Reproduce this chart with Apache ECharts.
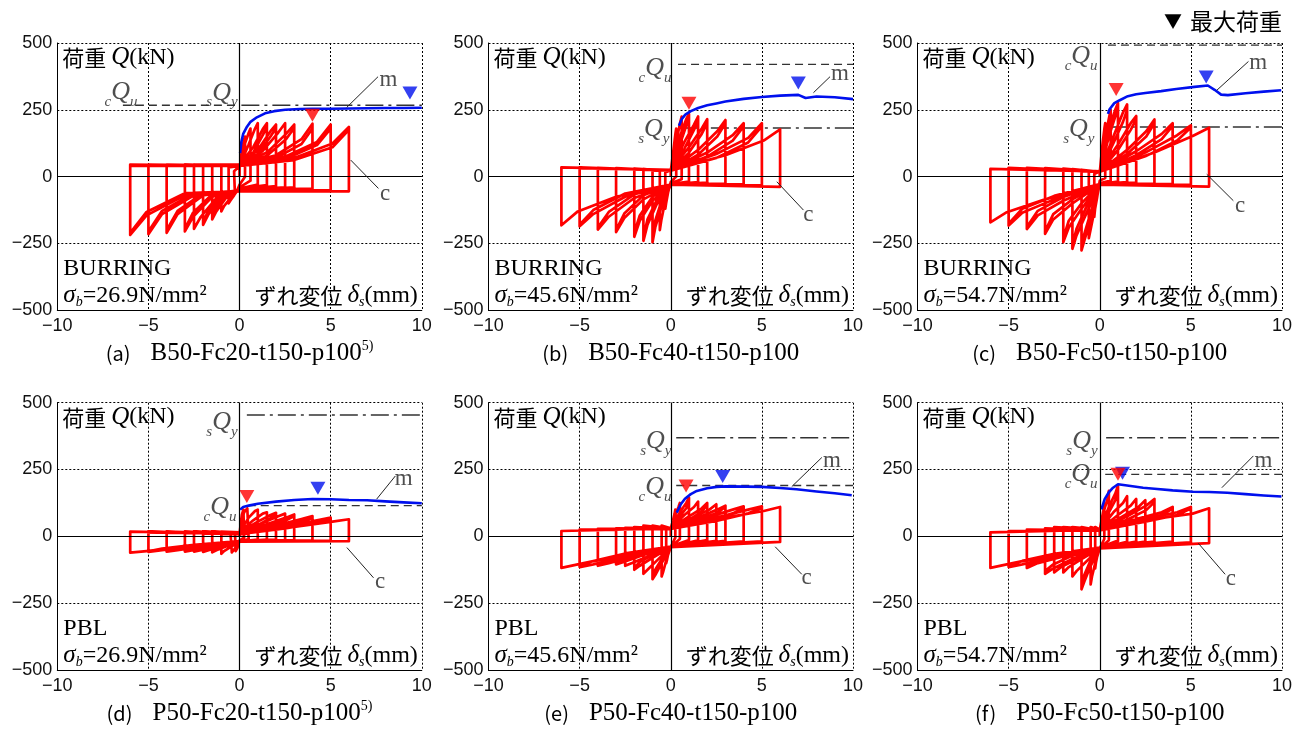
<!DOCTYPE html>
<html>
<head>
<meta charset="utf-8">
<script src="https://cdn.jsdelivr.net/npm/echarts@6/dist/echarts.min.js"></script>
<style>
  html, body { margin: 0; padding: 0; background: #fff; }
  #chart { width: 1305px; height: 729px; }
</style>
</head>
<body>
<div id="chart"></div>
<script>
// one row per cycle:
// [amp, upper@0, upper@amp/2, upper@0.85amp, peak+, after drop, lower@0, lower@-amp/2, lower@-0.85amp, peak-, after rise]
const loopsA = [
  [0.3, 30, 110, 140, 150, 0, -30, -55, -65, -70, 20],
  [0.6, 40, 125, 165, 180, -15, -40, -70, -90, -100, 35],
  [1, 40, 120, 180, 200, -30, -45, -80, -110, -130, 40],
  [1.5, 45, 110, 178, 200, -35, -48, -80, -130, -160, 45],
  [1.5, 40, 90, 155, 185, -32, -45, -70, -115, -150, 40],
  [2, 45, 100, 170, 195, -38, -50, -80, -140, -180, 45],
  [2, 40, 85, 150, 182, -35, -48, -70, -125, -170, 40],
  [2.5, 45, 95, 165, 200, -40, -50, -78, -150, -195, 45],
  [3, 45, 90, 160, 195, -42, -50, -75, -150, -205, 45],
  [3, 40, 78, 140, 182, -40, -52, -66, -135, -195, 40],
  [4, 45, 80, 140, 198, -45, -50, -70, -140, -210, 45],
  [4, 40, 70, 122, 180, -45, -52, -62, -128, -200, 40],
  [5, 45, 75, 130, 195, -50, -52, -70, -140, -215, 45],
  [5, 40, 66, 118, 180, -50, -55, -62, -128, -205, 40],
  [6, 45, 70, 124, 186, -55, -55, -70, -145, -218, 45],
  [6, 40, 62, 110, 175, -55, -55, -62, -132, -210, 40]
];
const loopsB = [
  [0.3, 20, 100, 160, 180, 0, -20, -60, -100, -120, 15],
  [0.6, 25, 130, 200, 225, -10, -25, -90, -160, -200, 25],
  [1, 25, 150, 215, 235, -20, -30, -110, -190, -245, 25],
  [1, 22, 120, 190, 220, -18, -28, -90, -165, -230, 22],
  [1.5, 25, 130, 195, 225, -22, -30, -100, -180, -240, 28],
  [1.5, 22, 105, 175, 210, -20, -30, -85, -160, -225, 25],
  [2, 25, 110, 180, 215, -25, -30, -90, -165, -225, 30],
  [2, 22, 90, 160, 200, -22, -30, -75, -145, -210, 27],
  [3, 25, 100, 170, 212, -28, -30, -85, -155, -207, 32],
  [3, 22, 82, 150, 200, -26, -30, -70, -138, -200, 29],
  [4, 25, 90, 155, 200, -30, -30, -80, -150, -198, 33],
  [4, 22, 75, 135, 188, -28, -30, -66, -132, -190, 30],
  [5, 25, 85, 145, 200, -35, -30, -75, -140, -186, 35],
  [5, 22, 70, 128, 188, -33, -30, -63, -125, -180, 32],
  [6, 25, 80, 135, 177, -38, -30, -75, -130, -182, 35]
];
const loopsC = [
  [0.3, 15, 120, 180, 200, -5, -15, -80, -120, -150, 10],
  [0.6, 20, 150, 220, 250, -15, -25, -130, -200, -230, 20],
  [1, 20, 180, 250, 276, -20, -30, -160, -240, -276, 25],
  [1, 18, 150, 225, 260, -18, -28, -135, -215, -262, 22],
  [1.5, 20, 150, 240, 270, -22, -30, -140, -220, -270, 28],
  [1.5, 18, 125, 205, 250, -20, -28, -115, -195, -255, 25],
  [2, 20, 120, 200, 227, -25, -30, -120, -190, -245, 30],
  [2, 18, 100, 175, 215, -22, -28, -100, -165, -230, 27],
  [3, 20, 100, 170, 214, -28, -30, -100, -160, -214, 32],
  [3, 18, 85, 150, 200, -26, -28, -85, -140, -205, 29],
  [4, 20, 95, 160, 200, -30, -30, -90, -145, -196, 33],
  [4, 18, 80, 140, 190, -28, -28, -76, -128, -188, 30],
  [5, 20, 90, 155, 192, -33, -30, -85, -135, -183, 33],
  [5, 18, 76, 135, 184, -31, -28, -72, -120, -176, 30],
  [6, 20, 90, 152, 183, -37, -30, -85, -133, -171, 29]
];
const loopsD = [
  [0.25, 10, 80, 100, 100, -5, -15, -45, -55, -60, 10],
  [0.5, 15, 90, 105, 110, -10, -20, -45, -60, -65, 15],
  [1, 15, 70, 95, 100, -12, -20, -40, -55, -65, 18],
  [1.5, 15, 60, 85, 90, -12, -20, -38, -52, -60, 18],
  [2, 15, 55, 80, 88, -13, -20, -38, -52, -58, 18],
  [2, 12, 42, 68, 82, -12, -18, -32, -46, -55, 15],
  [2.5, 15, 50, 75, 85, -14, -20, -38, -52, -57, 18],
  [3, 12, 45, 70, 82, -15, -20, -38, -52, -57, 18],
  [3, 10, 36, 60, 76, -14, -18, -32, -46, -55, 15],
  [4, 12, 40, 65, 76, -15, -20, -38, -52, -57, 18],
  [4, 10, 32, 55, 70, -15, -18, -32, -46, -55, 15],
  [5, 10, 38, 60, 70, -17, -20, -38, -52, -58, 18],
  [5, 8, 30, 50, 66, -16, -18, -32, -46, -56, 15],
  [6, 10, 35, 55, 64, -18, -20, -38, -55, -61, 18]
];
const loopsE = [
  [0.25, 30, 60, 85, 100, -5, -40, -60, -90, -100, 35],
  [0.5, 30, 80, 110, 125, -10, -40, -90, -135, -150, 40],
  [1, 30, 90, 125, 145, -15, -40, -100, -145, -160, 40],
  [1, 28, 75, 105, 132, -14, -38, -85, -125, -150, 36],
  [1.5, 30, 80, 110, 130, -15, -40, -90, -125, -140, 40],
  [2, 30, 75, 105, 125, -15, -40, -80, -110, -125, 35],
  [2, 28, 62, 92, 118, -14, -38, -68, -96, -118, 32],
  [2.5, 30, 72, 100, 120, -17, -40, -75, -100, -110, 32],
  [3, 30, 70, 100, 115, -18, -40, -70, -95, -105, 30],
  [3, 28, 60, 88, 110, -17, -38, -62, -85, -102, 27],
  [4, 30, 70, 100, 112, -20, -40, -75, -100, -110, 28],
  [4, 28, 58, 86, 106, -19, -38, -64, -88, -106, 25],
  [5, 30, 70, 100, 112, -20, -40, -75, -105, -115, 25],
  [5, 28, 58, 86, 106, -19, -38, -64, -92, -110, 22],
  [6, 30, 70, 95, 110, -21, -40, -75, -105, -118, 20]
];
const loopsF = [
  [0.25, 25, 70, 100, 120, -10, -45, -70, -100, -120, 35],
  [0.5, 25, 100, 140, 170, -15, -45, -100, -150, -180, 35],
  [1, 25, 110, 160, 190, -18, -45, -110, -170, -198, 35],
  [1, 22, 90, 135, 170, -16, -42, -90, -145, -180, 32],
  [1.5, 25, 90, 125, 150, -20, -45, -95, -130, -150, 35],
  [2, 25, 80, 115, 140, -20, -45, -85, -115, -135, 35],
  [2.5, 25, 75, 110, 135, -20, -45, -85, -115, -135, 35],
  [3, 25, 75, 115, 140, -22, -45, -85, -120, -140, 30],
  [3, 22, 62, 98, 128, -20, -42, -72, -105, -130, 28],
  [4, 25, 65, 90, 110, -22, -45, -75, -100, -118, 25],
  [4, 22, 55, 80, 104, -20, -42, -65, -90, -112, 23],
  [5, 25, 65, 90, 110, -24, -45, -75, -105, -115, 20],
  [5, 22, 55, 80, 104, -22, -42, -65, -92, -110, 18],
  [6, 25, 65, 85, 105, -25, -45, -75, -105, -118, 15]
];

// monotonic loading curves (blue, "m")
const envA = [[0.03, 88], [0.1, 130], [0.2, 160], [0.4, 186], [0.6, 205], [0.95, 222], [1.4, 237], [1.9, 245], [2.5, 250], [3.3, 253], [4, 254], [5, 254], [6, 255], [7, 256], [8, 257], [9, 257], [10, 258]];
const envB = [[0.45, 190], [0.6, 215], [0.8, 232], [1.1, 245], [1.5, 257], [2, 267], [2.5, 274], [3, 281], [4, 291], [5, 298], [6, 303], [7, 306], [7.4, 294], [8, 300], [9, 297], [10, 290]];
const envC = [[0.45, 235], [0.53, 251], [0.8, 275], [1.07, 285], [1.54, 301], [2, 308], [2.5, 313], [3.37, 320], [4.2, 328], [5.2, 336], [5.93, 341], [6.3, 325], [6.66, 307], [7.03, 305], [8, 312], [9, 318], [9.96, 323]];
const envD = [[0.03, 100], [0.2, 110], [0.5, 115], [1, 122], [2, 130], [3, 136], [4, 140], [5, 139], [6, 136], [7, 135], [8, 131], [9, 127], [10, 124]];
const envE = [[0.33, 89], [0.55, 120], [0.78, 141], [1.1, 158], [1.43, 170], [2, 180], [2.52, 185], [3, 187], [4.17, 186], [5, 185], [6, 181], [6.9, 176], [8, 168], [9, 161], [9.93, 154]];
const envF = [[0.09, 101], [0.27, 139], [0.5, 165], [0.73, 182], [1, 195], [1.5, 190], [2.38, 182], [3, 178], [4, 172], [5.12, 167], [6, 166], [7, 163], [8, 158], [9, 153], [9.97, 149]];

// reference strengths: [x from, x to, kN]
const cQuLine = [[-6.4, -0.2, 267], [0.4, 10, 420], [0.45, 10, 492], [0.45, 10, 115], [0.3, 10, 190], [0.3, 10, 232]];
const sQyLine = [[0.1, 10, 267], [0.5, 10, 182], [0.5, 10, 186], [0.4, 10, 454], [0.3, 10, 369], [0.35, 10, 369]];
const cQuText = [[-5.57, 316], [0.07, 405], [-0.09, 449], [-0.14, 109], [0.07, 184], [-0.09, 232]];
const sQyText = [[-0.08, 313], [-0.04, 178], [-0.26, 177], [-0.08, 427], [0.07, 356], [-0.09, 356]];

// maximum load markers
const redMax = [[4, 230], [1.0, 275], [0.9, 326], [0.4, 149], [0.84, 188], [1.0, 232]];
const blueMax = [[9.35, 313], [7.0, 350], [5.84, 373], [4.3, 180], [2.85, 224], [1.25, 236]];

// arrows [tail x, tail y, tip x, tip y] and letter positions
const arrowM = [[7.6, 374, 5.88, 259], [8.74, 374, 7.83, 314], [8.16, 431, 6.42, 323], [8.55, 226, 7.52, 139], [8.29, 295, 6.64, 186], [8.43, 301, 6.7, 182]];
const arrowC = [[7.62, -44, 6.1, 62], [7.28, -125, 5.82, -19], [7.33, -90, 5.87, 9], [7.35, -155, 5.89, -42], [7.19, -142, 5.73, -39], [6.88, -142, 5.41, -26]];
const textM = [[8.17, 361], [9.29, 386], [8.7, 425], [9.0, 216], [8.84, 282], [8.98, 282]];
const textC = [[7.98, -63], [7.55, -144], [7.7, -109], [7.71, -170], [7.46, -157], [7.19, -161]];

const specimen = ['BURRING', 'BURRING', 'BURRING', 'PBL', 'PBL', 'PBL'];
const sigmaB = ['26.9', '45.6', '54.7', '26.9', '45.6', '54.7'];
const tags = ['a', 'b', 'c', 'd', 'e', 'f'];
const captions = ['B50-Fc20-t150-p100', 'B50-Fc40-t150-p100', 'B50-Fc50-t150-p100',
                  'P50-Fc20-t150-p100', 'P50-Fc40-t150-p100', 'P50-Fc50-t150-p100'];
const notes = ['5)', '', '', '5)', '', ''];

const loops = [loopsA, loopsB, loopsC, loopsD, loopsE, loopsF];
const envs = [envA, envB, envC, envD, envE, envF];

const SERIF = '"Liberation Serif", "DejaVu Serif", serif';
const SANS = '"Liberation Sans", Arial, sans-serif';
const JP = '"Noto Sans CJK JP", sans-serif';
const TXT = '#222';

const W = 364.5, H = 267.3;
const colLeft = [57.3, 488.5, 917.5];
const rowTop = [43, 402.7];

// turn the cycle rows into one continuous path
function loopPath(rows) {
  const pts = [[0, 0]];
  rows.forEach(function (r) {
    const d = r[0];
    pts.push([0, r[1]], [d * 0.5, r[2]], [d * 0.85, r[3]], [d, r[4]], [d, r[5]],
             [0, r[6]], [-d * 0.5, r[7]], [-d * 0.85, r[8]], [-d, r[9]], [-d, r[10]]);
  });
  pts.push([0, rows[rows.length - 1][1]]);
  return pts;
}

function minus(v) { return v < 0 ? '\u2212' + (-v) : String(v); }

const qRich = {
  s: { fontFamily: SERIF, fontStyle: 'italic', fontSize: 15, lineHeight: 15, verticalAlign: 'bottom', color: TXT },
  q: { fontFamily: SERIF, fontStyle: 'italic', fontSize: 26, lineHeight: 34, color: TXT }
};
const textRich = {
  j: { fontFamily: JP, fontSize: 22, lineHeight: 27, color: TXT },
  i: { fontFamily: SERIF, fontStyle: 'italic', fontSize: 25, lineHeight: 27, color: TXT },
  t: { fontFamily: SERIF, fontSize: 24, lineHeight: 27, color: TXT },
  sub: { fontFamily: SERIF, fontStyle: 'italic', fontSize: 14, lineHeight: 14, verticalAlign: 'bottom', color: TXT },
  sup: { fontFamily: SERIF, fontSize: 14, lineHeight: 14, verticalAlign: 'top', color: TXT },
  c: { fontFamily: JP, fontSize: 20, lineHeight: 27, color: TXT },
  ct: { fontFamily: SERIF, fontSize: 25, lineHeight: 27, color: TXT }
};

const grid = [], xAxis = [], yAxis = [], series = [], graphic = [];
const gridLine = { type: [2, 2], color: '#000', width: 1 };

for (let i = 0; i < 6; i++) {
  const gl = colLeft[i % 3], gt = rowTop[Math.floor(i / 3)];
  grid.push({ left: gl, top: gt, width: W, height: H });

  xAxis.push({
    gridIndex: i, type: 'value', min: -10, max: 10, interval: 5,
    axisLine: { show: true, onZero: false, lineStyle: { color: '#000', width: 1 } },
    axisTick: { show: false },
    axisLabel: { formatter: minus, color: '#111', fontSize: 18, fontFamily: SANS, margin: 7 },
    splitLine: { show: true, lineStyle: gridLine }
  });
  yAxis.push({
    gridIndex: i, type: 'value', min: -500, max: 500, interval: 250,
    axisLine: { show: true, onZero: false, lineStyle: { color: '#000', width: 1 } },
    axisTick: { show: false },
    axisLabel: { formatter: minus, color: '#111', fontSize: 18, fontFamily: SANS, margin: 5 },
    splitLine: { show: true, lineStyle: gridLine }
  });

  const ax = { xAxisIndex: i, yAxisIndex: i };
  const cq = cQuLine[i], sq = sQyLine[i];

  // cQu dashed line + zero axes
  series.push(Object.assign({
    type: 'line', z: 1, symbol: 'none', silent: true,
    data: [[cq[0], cq[2]], [cq[1], cq[2]]],
    lineStyle: { color: '#333', width: 1.4, type: [8, 5] },
    markLine: {
      silent: true, symbol: 'none', label: { show: false },
      lineStyle: { color: '#000', width: 1.2, type: 'solid' },
      data: [{ xAxis: 0 }, { yAxis: 0 }]
    }
  }, ax));
  // sQy dash-dot line
  series.push(Object.assign({
    type: 'line', z: 1, symbol: 'none', silent: true,
    data: [[sq[0], sq[2]], [sq[1], sq[2]]],
    lineStyle: { color: '#333', width: 1.4, type: [18, 5, 3, 5] }
  }, ax));
  // cyclic loading (red)
  series.push(Object.assign({
    type: 'line', z: 2, symbol: 'none', silent: true,
    data: loopPath(loops[i]),
    lineStyle: { color: '#ff0000', width: 2.7, join: 'round' }
  }, ax));
  // monotonic loading (blue)
  series.push(Object.assign({
    type: 'line', z: 3, symbol: 'none', silent: true,
    data: envs[i],
    lineStyle: { color: '#0010ee', width: 2.6, join: 'round' }
  }, ax));
  // max-load markers
  series.push(Object.assign({
    type: 'scatter', z: 4, silent: true, symbol: 'triangle', symbolRotate: 180, symbolSize: [15, 13],
    data: [
      { value: blueMax[i], itemStyle: { color: '#0010ee' } },
      { value: redMax[i], itemStyle: { color: '#ff0000' } }
    ]
  }, ax));
  // letters, strength labels, arrows
  const am = arrowM[i], ac = arrowC[i];
  const lab = { show: true, position: 'inside', fontFamily: SERIF, fontSize: 23, color: TXT, formatter: '{b}' };
  series.push(Object.assign({
    type: 'scatter', z: 5, silent: true, symbolSize: 1, itemStyle: { color: 'transparent' },
    data: [
      { value: textM[i], name: 'm', label: lab },
      { value: textC[i], name: 'c', label: lab },
      { value: cQuText[i], label: { show: true, position: 'left', distance: 0, rich: qRich, formatter: '{s|c}{q|Q}{s|u}' } },
      { value: sQyText[i], label: { show: true, position: 'left', distance: 0, rich: qRich, formatter: '{s|s}{q|Q}{s|y}' } }
    ],
    markLine: {
      silent: true, symbol: ['none', 'arrow'], symbolSize: [0, 9], label: { show: false },
      lineStyle: { color: '#222', width: 1, type: 'solid' },
      data: [
        [{ coord: [am[0], am[1]] }, { coord: [am[2], am[3]] }],
        [{ coord: [ac[0], ac[1]] }, { coord: [ac[2], ac[3]] }]
      ]
    }
  }, ax));

  // texts inside the plot
  graphic.push({
    type: 'text', x: gl + 5, y: gt + 1, silent: true,
    style: { text: '{j|荷重 }{i|Q}{t|(kN)}', rich: textRich, align: 'left', verticalAlign: 'top' }
  });
  graphic.push({
    type: 'text', x: gl + 6, y: gt + H - 1, silent: true,
    style: {
      text: '{t|' + specimen[i] + '}\n{i|σ}{sub|b}{t|=' + sigmaB[i] + 'N/mm²}',
      rich: textRich, align: 'left', verticalAlign: 'bottom'
    }
  });
  graphic.push({
    type: 'text', x: gl + W - 4, y: gt + H - 1, silent: true,
    style: { text: '{j|ずれ変位 }{i|δ}{sub|s}{t|(mm)}', rich: textRich, align: 'right', verticalAlign: 'bottom' }
  });
  // caption below
  graphic.push({
    type: 'text', x: gl + W / 2, y: gt + H + 43, silent: true,
    style: {
      text: '{c|(' + tags[i] + ')　}{ct|' + captions[i] + '}' + (notes[i] ? '{sup|' + notes[i] + '}' : ''),
      rich: textRich, align: 'center', verticalAlign: 'middle'
    }
  });
}

// legend for the triangles
graphic.push({
  type: 'text', x: 1282, y: 21, silent: true,
  style: {
    text: '{k|▼  }{j|最大荷重}',
    rich: {
      k: { fontFamily: JP, fontSize: 18, color: '#111' },
      j: { fontFamily: JP, fontSize: 23, color: TXT }
    },
    align: 'right', verticalAlign: 'middle'
  }
});

const chart = echarts.init(document.getElementById('chart'), null, { renderer: 'canvas' });
chart.setOption({
  animation: false,
  backgroundColor: '#fff',
  grid: grid,
  xAxis: xAxis,
  yAxis: yAxis,
  series: series,
  graphic: graphic
});
</script>
</body>
</html>
